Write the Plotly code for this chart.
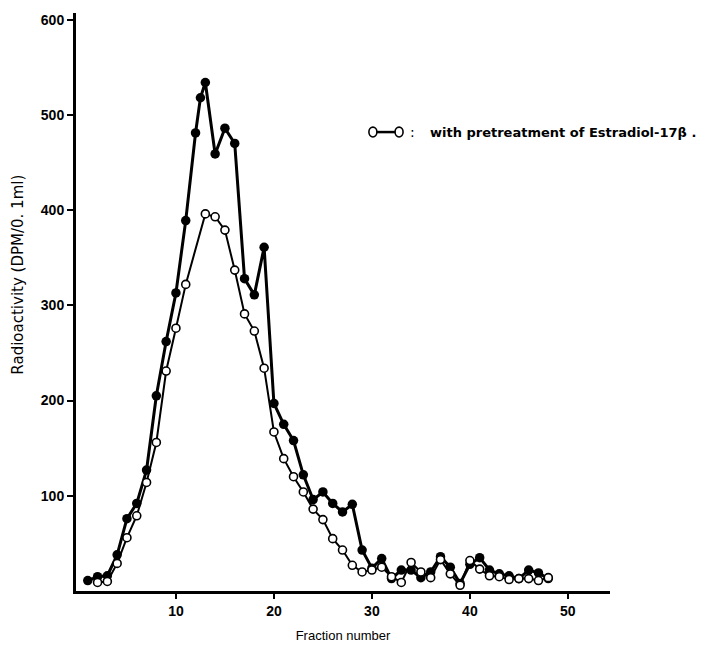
import plotly.graph_objects as go

# Filled circles (without pretreatment)
frac_filled = [1, 2, 3, 4, 5, 6, 7, 8, 9, 10, 11, 12, 12.5, 13, 14, 15, 16, 17, 18, 19, 20,
               21, 22, 23, 24, 25, 26, 27, 28, 29, 30, 31, 32, 33, 34, 35, 36, 37, 38, 39, 40,
               41, 42, 43, 44, 45, 46, 47, 48]
dpm_filled = [11, 15, 16, 38, 76, 92, 127, 205, 262, 313, 389, 481, 518, 534, 459, 486, 470, 328, 311, 361, 197,
              175, 158, 122, 96, 104, 92, 83, 91, 43, 24, 34, 13, 22, 22, 14, 20, 36, 25, 8, 28,
              35, 22, 18, 16, 13, 22, 19, 13]

# Open circles (with pretreatment of Estradiol-17beta)
frac_open = [2, 3, 4, 5, 6, 7, 8, 9, 10, 11, 13, 14, 15, 16, 17, 18, 19, 20,
             21, 22, 23, 24, 25, 26, 27, 28, 29, 30, 31, 32, 33, 34, 35, 36, 37, 38, 39, 40,
             41, 42, 43, 44, 45, 46, 47, 48]
dpm_open = [9, 10, 29, 56, 79, 114, 156, 231, 276, 322, 396, 393, 379, 337, 291, 273, 234, 167,
            139, 120, 104, 86, 75, 55, 43, 27, 20, 22, 25, 15, 9, 30, 20, 14, 33, 18, 6, 32,
            23, 16, 15, 12, 13, 13, 11, 14]

x_ticks = [10, 20, 30, 40, 50]
y_ticks = [100, 200, 300, 400, 500, 600]
y_title = "Radioactivity (DPM/0. 1ml)"
x_title = "Fraction number"
legend_text = "with pretreatment of Estradiol-17\u03b2 ."

fig = go.Figure()
fig.add_trace(go.Scatter(
    x=frac_filled, y=dpm_filled, mode="lines+markers",
    line=dict(color="black", width=3),
    marker=dict(symbol="circle", size=9.5, color="black"),
    showlegend=False))
fig.add_trace(go.Scatter(
    x=frac_open, y=dpm_open, mode="lines+markers",
    line=dict(color="black", width=2),
    marker=dict(symbol="circle", size=8, color="white", line=dict(color="black", width=1.6)),
    showlegend=False))

tick_font = dict(family="Liberation Sans, Arial, sans-serif",
                 size=14, color="black", weight="bold")
title_font = dict(family="Liberation Sans, Arial, sans-serif", size=13, color="black")
ytitle_font = dict(family="DejaVu Sans, sans-serif", size=15, color="black")

fig.update_layout(
    width=728, height=646,
    margin=dict(l=68, r=126, t=5, b=63),
    paper_bgcolor="white", plot_bgcolor="white",
    xaxis=dict(range=[-0.2, 54.3], tickvals=x_ticks, ticktext=[str(v) for v in x_ticks],
               automargin=False,
               showgrid=False, zeroline=False, showline=True, linecolor="black", linewidth=3,
               ticks="outside", ticklen=5, tickwidth=1.5, tickcolor="black",
               tickfont=tick_font,
               title=dict(text=x_title, font=title_font, standoff=14)),
    yaxis=dict(range=[0, 607], tickvals=y_ticks, ticktext=[str(v) for v in y_ticks],
               automargin=False,
               showgrid=False, zeroline=False, showline=True, linecolor="black", linewidth=3,
               ticks="outside", ticklen=6, tickwidth=2, tickcolor="black",
               tickfont=tick_font),
    font=dict(family="Liberation Sans, Arial, sans-serif", color="black"),
)

# Y axis title (placed slightly above the plot centre, as in the reference)
fig.add_annotation(xref="paper", yref="paper", x=-0.109, y=0.547, text=y_title,
                   textangle=-90, showarrow=False, xanchor="center", yanchor="middle",
                   font=ytitle_font)

# Legend key: open circle - line - open circle
lx0, lx1, ly = 0.556, 0.605, 0.794
fig.add_shape(type="line", xref="paper", yref="paper", x0=lx0, x1=lx1, y0=ly, y1=ly,
              line=dict(color="black", width=2.5))
for cx in (lx0, lx1):
    fig.add_shape(type="circle", xref="paper", yref="paper",
                  x0=cx - 0.0075, x1=cx + 0.0075, y0=ly - 0.0085, y1=ly + 0.0085,
                  fillcolor="white", line=dict(color="black", width=1.6))
fig.add_annotation(xref="paper", yref="paper", x=0.622, y=ly, text=":",
                   showarrow=False, xanchor="left", yanchor="middle",
                   font=dict(family="DejaVu Sans, sans-serif", size=14, color="black"))
fig.add_annotation(xref="paper", yref="paper", x=0.66, y=ly, text=legend_text,
                   showarrow=False, xanchor="left", yanchor="middle",
                   font=dict(family="DejaVu Sans, sans-serif", size=13, color="black", weight="bold"))

fig.write_html("out.html")
